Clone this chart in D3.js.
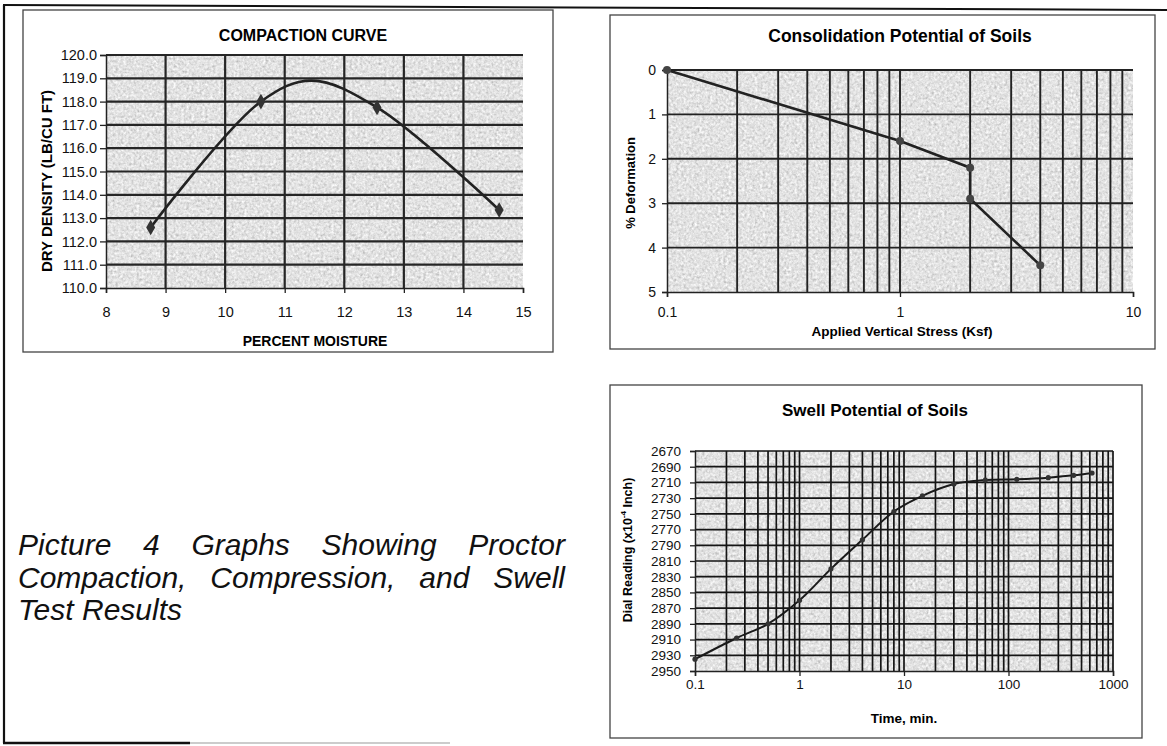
<!DOCTYPE html>
<html><head><meta charset="utf-8">
<script src="https://cdn.jsdelivr.net/npm/d3@7"></script>
<style>
body{margin:0;background:#fff;}
svg{display:block;font-family:"Liberation Sans",Arial,sans-serif;}
</style>
</head><body>
<svg id="c" width="1167" height="746"></svg>
<script>
// ---------- DATA ----------
// Compaction curve
const moisture = [8.75, 10.6, 12.55, 14.6];
const dryDensity = [112.6, 118.0, 117.75, 113.35];
const curveMoisture = [8.75, 10.6, 11.45, 12.55, 14.6];
const curveDensity = [112.6, 118.0, 118.9, 117.75, 113.35];
const moistureTicks = [8, 9, 10, 11, 12, 13, 14, 15];
const densityTicks = [110, 111, 112, 113, 114, 115, 116, 117, 118, 119, 120];

// Consolidation
const stress = [0.1, 1, 2, 2, 4];
const deformation = [0, 1.6, 2.2, 2.9, 4.4];
const stressTicks = [0.1, 1, 10];
const deformationTicks = [0, 1, 2, 3, 4, 5];

// Swell
const time = [0.1, 0.25, 0.5, 1, 2, 4, 8, 15, 30, 60, 120, 240, 420, 630];
const dial = [2935, 2908, 2890, 2860, 2820, 2783, 2747, 2727, 2712, 2707, 2706, 2704, 2701, 2698];
const timeTicks = [0.1, 1, 10, 100, 1000];
const dialTicks = [2670, 2690, 2710, 2730, 2750, 2770, 2790, 2810, 2830, 2850, 2870, 2890, 2910, 2930, 2950];

// Caption
const captionLines = ["Picture 4 Graphs Showing Proctor", "Compaction, Compression, and Swell", "Test Results"];

// ---------- DRAW ----------
const svg = d3.select("#c");
svg.append("rect").attr("width", 1167).attr("height", 746).attr("fill", "#fff");

const defs = svg.append("defs");
const f = defs.append("filter").attr("id", "grain").attr("x", 0).attr("y", 0).attr("width", 1).attr("height", 1);
f.append("feTurbulence").attr("type", "fractalNoise").attr("baseFrequency", 0.38).attr("numOctaves", 3).attr("seed", 7);
f.append("feColorMatrix").attr("type", "matrix")
  .attr("values", "0.45 0.45 0 0 0.31  0.45 0.45 0 0 0.31  0.45 0.45 0 0 0.31  0 0 0 0 1");

// outer frame
svg.append("line").attr("x1", 3).attr("y1", 5).attr("x2", 1167).attr("y2", 10).attr("stroke", "#111").attr("stroke-width", 2);
svg.append("line").attr("x1", 4).attr("y1", 5).attr("x2", 4).attr("y2", 743).attr("stroke", "#111").attr("stroke-width", 2.2);
svg.append("line").attr("x1", 3).attr("y1", 743).attr("x2", 190).attr("y2", 743).attr("stroke", "#111").attr("stroke-width", 2.4);
svg.append("line").attr("x1", 190).attr("y1", 743).attr("x2", 450).attr("y2", 743).attr("stroke", "#bbb").attr("stroke-width", 1.5);

function box(x0, y0, x1, y1) {
  svg.append("rect").attr("x", x0).attr("y", y0).attr("width", x1 - x0).attr("height", y1 - y0)
    .attr("fill", "none").attr("stroke", "#444").attr("stroke-width", 1.3);
}
function plotBg(x0, y0, x1, y1) {
  svg.append("rect").attr("x", x0).attr("y", y0).attr("width", x1 - x0).attr("height", y1 - y0)
    .attr("fill", "#c4c4c4").attr("filter", "url(#grain)");
}
function styleAxis(g, fs) {
  g.select(".domain").attr("stroke", "#222").attr("stroke-width", 1.5);
  g.selectAll(".tick line").attr("stroke", "#222").attr("stroke-width", 1.3);
  g.selectAll(".tick text").attr("fill", "#111").style("font-size", fs + "px");
}

// ===== Chart 1: Compaction curve =====
{
  box(23, 10, 553, 352);
  const x = d3.scaleLinear([8, 15], [106, 523]);
  const y = d3.scaleLinear([110, 120], [288, 55]);
  plotBg(x(8), y(120), x(15), y(110));
  const g = svg.append("g");
  g.selectAll("line.v").data(moistureTicks.filter(d => d > 8 && d < 15)).join("line")
    .attr("x1", d => x(d)).attr("x2", d => x(d)).attr("y1", y(120)).attr("y2", y(110))
    .attr("stroke", "#262626").attr("stroke-width", 2.2);
  g.selectAll("line.h").data(densityTicks.filter(d => d > 110)).join("line")
    .attr("x1", x(8)).attr("x2", x(15)).attr("y1", d => y(d)).attr("y2", d => y(d))
    .attr("stroke", "#262626").attr("stroke-width", 2.2);
  const ya = svg.append("g").attr("transform", `translate(${x(8)},0)`)
    .call(d3.axisLeft(y).tickValues(densityTicks).tickFormat(d3.format(".1f")).tickSize(6).tickPadding(3));
  styleAxis(ya, 14.5);
  const xa = svg.append("g").attr("transform", `translate(0,${y(110)})`)
    .call(d3.axisBottom(x).tickValues(moistureTicks).tickFormat(d3.format("d")).tickSize(5).tickPadding(14));
  styleAxis(xa, 14.5);
  const pts = curveMoisture.map((m, i) => [x(m), y(curveDensity[i])]);
  svg.append("path").attr("d", d3.line().curve(d3.curveCatmullRom.alpha(0.5))(pts))
    .attr("fill", "none").attr("stroke", "#222").attr("stroke-width", 2.6);
  svg.selectAll("path.m1").data(moisture).join("path")
    .attr("transform", (m, i) => `translate(${x(m)},${y(dryDensity[i])})`)
    .attr("d", d3.symbol(d3.symbolDiamond, 70)).attr("fill", "#333");
  svg.append("text").attr("x", 303).attr("y", 35).attr("text-anchor", "middle").attr("dominant-baseline", "central")
    .style("font-size", "16px").style("font-weight", "bold").text("COMPACTION CURVE");
  svg.append("text").attr("x", 315).attr("y", 341).attr("text-anchor", "middle").attr("dominant-baseline", "central")
    .style("font-size", "14px").style("font-weight", "bold").text("PERCENT MOISTURE");
  svg.append("text").attr("transform", "translate(46,181) rotate(-90)").attr("text-anchor", "middle").attr("dominant-baseline", "central")
    .style("font-size", "15px").style("font-weight", "bold").text("DRY DENSITY (LB/CU FT)");
}

// ===== Chart 2: Consolidation =====
{
  box(610, 15, 1155, 349);
  const x = d3.scaleLog([0.1, 10], [667, 1133]);
  const y = d3.scaleLinear([0, 5], [70, 292]);
  plotBg(x(0.1), y(0), x(10), y(5));
  const g = svg.append("g");
  g.selectAll("line.v").data(x.ticks().filter(d => d > 0.1 && d < 10)).join("line")
    .attr("x1", d => x(d)).attr("x2", d => x(d)).attr("y1", y(0)).attr("y2", y(5))
    .attr("stroke", "#222").attr("stroke-width", 1.9);
  g.selectAll("line.h").data(deformationTicks.filter(d => d < 5)).join("line")
    .attr("x1", x(0.1)).attr("x2", x(10)).attr("y1", d => y(d)).attr("y2", d => y(d))
    .attr("stroke", "#222").attr("stroke-width", 1.9);
  const ya = svg.append("g").attr("transform", `translate(${x(0.1)},0)`)
    .call(d3.axisLeft(y).tickValues(deformationTicks).tickFormat(d3.format("d")).tickSize(5).tickPadding(6));
  styleAxis(ya, 14);
  const xa = svg.append("g").attr("transform", `translate(0,${y(5)})`)
    .call(d3.axisBottom(x).tickValues(stressTicks).tickFormat(d => d < 1 ? "0.1" : d3.format("d")(d)).tickSize(5).tickPadding(10));
  styleAxis(xa, 14);
  const pts = stress.map((s, i) => [x(s), y(deformation[i])]);
  svg.append("path").attr("d", d3.line()(pts)).attr("fill", "none").attr("stroke", "#222").attr("stroke-width", 2.6);
  svg.selectAll("circle.m2").data(stress).join("circle")
    .attr("cx", s => x(s)).attr("cy", (s, i) => y(deformation[i])).attr("r", 4).attr("fill", "#444");
  svg.append("text").attr("x", 900).attr("y", 36).attr("text-anchor", "middle").attr("dominant-baseline", "central")
    .style("font-size", "17.5px").style("font-weight", "bold").text("Consolidation Potential of Soils");
  svg.append("text").attr("x", 902).attr("y", 331).attr("text-anchor", "middle").attr("dominant-baseline", "central")
    .style("font-size", "13.5px").style("font-weight", "bold").text("Applied Vertical Stress (Ksf)");
  svg.append("text").attr("transform", "translate(630,183) rotate(-90)").attr("text-anchor", "middle").attr("dominant-baseline", "central")
    .style("font-size", "13px").style("font-weight", "bold").text("% Deformation");
}

// ===== Chart 3: Swell =====
{
  box(610, 385, 1142, 738);
  const x = d3.scaleLog([0.1, 1000], [695, 1113]);
  const y = d3.scaleLinear([2670, 2950], [451, 671]);
  plotBg(x(0.1), y(2670), x(1000), y(2950));
  const g = svg.append("g");
  g.selectAll("line.v").data(x.ticks().filter(d => d > 0.1)).join("line")
    .attr("x1", d => x(d)).attr("x2", d => x(d)).attr("y1", y(2670)).attr("y2", y(2950))
    .attr("stroke", "#151515").attr("stroke-width", 1.7);
  g.selectAll("line.h").data(dialTicks.filter(d => d < 2950)).join("line")
    .attr("x1", x(0.1)).attr("x2", x(1000)).attr("y1", d => y(d)).attr("y2", d => y(d))
    .attr("stroke", "#151515").attr("stroke-width", 1.7);
  const ya = svg.append("g").attr("transform", `translate(${x(0.1)},0)`)
    .call(d3.axisLeft(y).tickValues(dialTicks).tickFormat(d3.format("d")).tickSize(5).tickPadding(9));
  styleAxis(ya, 13.5);
  const xa = svg.append("g").attr("transform", `translate(0,${y(2950)})`)
    .call(d3.axisBottom(x).tickValues(timeTicks).tickFormat(d => d < 1 ? "0.1" : d3.format("d")(d)).tickSize(5).tickPadding(3));
  styleAxis(xa, 13.5);
  const pts = time.map((t, i) => [x(t), y(dial[i])]);
  svg.append("path").attr("d", d3.line().curve(d3.curveCatmullRom.alpha(0.5))(pts))
    .attr("fill", "none").attr("stroke", "#1a1a1a").attr("stroke-width", 2);
  svg.selectAll("circle.m3").data(time).join("circle")
    .attr("cx", t => x(t)).attr("cy", (t, i) => y(dial[i])).attr("r", 2.6).attr("fill", "#333");
  svg.append("text").attr("x", 875).attr("y", 410).attr("text-anchor", "middle").attr("dominant-baseline", "central")
    .style("font-size", "17px").style("font-weight", "bold").text("Swell Potential of Soils");
  svg.append("text").attr("x", 904).attr("y", 718).attr("text-anchor", "middle").attr("dominant-baseline", "central")
    .style("font-size", "13.5px").style("font-weight", "bold").text("Time, min.");
  const yt = svg.append("text").attr("transform", "translate(628,550) rotate(-90)").attr("text-anchor", "middle").attr("dominant-baseline", "central")
    .style("font-size", "12.5px").style("font-weight", "bold");
  yt.append("tspan").text("Dial Reading (x10");
  yt.append("tspan").attr("dy", -5).style("font-size", "8px").text("-4");
  yt.append("tspan").attr("dy", 5).text(" Inch)");
}

// ===== Caption (justified) =====
{
  const left = 18, right = 565, fs = 30;
  const baselines = [555, 588, 620];
  captionLines.forEach((line, li) => {
    const words = line.split(" ");
    const gl = svg.append("g");
    const nodes = words.map(w => gl.append("text").attr("y", baselines[li])
      .style("font-size", fs + "px").style("font-style", "italic").attr("fill", "#111").text(w));
    const widths = nodes.map(n => n.node().getComputedTextLength());
    const total = d3.sum(widths);
    const last = li === captionLines.length - 1;
    const gap = last ? fs * 0.28 : (right - left - total) / (words.length - 1);
    let cx = left;
    nodes.forEach((n, i) => { n.attr("x", cx); cx += widths[i] + gap; });
  });
}
</script>
</body></html>
